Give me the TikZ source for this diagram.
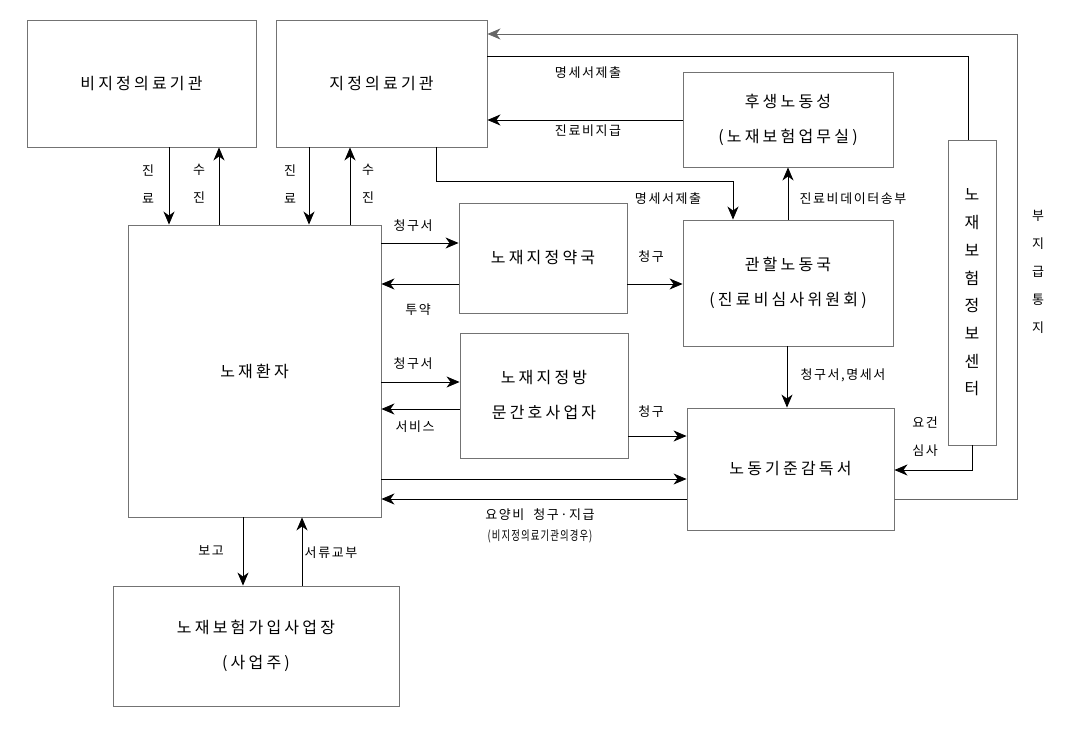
\documentclass[tikz,border=0pt]{standalone}
\usepackage{fontspec}
\usepackage{graphicx}
\setmainfont{Noto Sans CJK KR}
\newfontfamily\boxfont[LetterSpace=20]{Noto Sans CJK KR}
\newfontfamily\lblfont[LetterSpace=12]{Noto Sans CJK KR}
\usetikzlibrary{arrows.meta}
\begin{document}
\begin{tikzpicture}[x=1pt,y=-1pt,
  box/.style={draw=black!55,line width=0.9pt,fill=white,inner sep=0pt,align=center,
    font=\boxfont\fontsize{16}{35}\selectfont},
  arr/.style={line width=0.8pt,-{Stealth[length=13pt,width=11pt,inset=4pt]}},
  ln/.style={line width=0.8pt},
  lbl/.style={inner sep=0pt,font=\lblfont\fontsize{13}{28}\selectfont,align=center}]
\path[use as bounding box] (0,0) rectangle (1085,733);
% boxes
\node[box,minimum width=229pt,minimum height=127pt] (nonhosp) at (141.5,83.5) {비지정의료기관};
\node[box,minimum width=211pt,minimum height=127pt] (hosp) at (381.5,83.5) {지정의료기관};
\node[box,minimum width=253pt,minimum height=292pt] (patient) at (254.5,371) {노재환자};
\node[box,minimum width=210pt,minimum height=95pt] (mhlw) at (788,119.5) {후생노동성\\(노재보험업무실)};
\node[box,minimum width=168pt,minimum height=110pt] (pharm) at (543,258) {노재지정약국};
\node[box,minimum width=210pt,minimum height=126pt] (bureau) at (788,283) {관할노동국\\(진료비심사위원회)};
\node[box,minimum width=168pt,minimum height=125pt] (nurse) at (544,395.5) {노재지정방\\문간호사업자};
\node[box,minimum width=207pt,minimum height=122pt] (office) at (790.5,469) {노동기준감독서};
\node[box,minimum width=48pt,minimum height=305pt,font=\fontsize{16}{27.7}\selectfont] (info) at (972,292.5) {노\\재\\보\\험\\정\\보\\센\\터};
\node[box,minimum width=286pt,minimum height=120pt] (employer) at (256,646) {노재보험가입사업장\\(사업주)};
% corner coordinates
\coordinate (c1) at (1017,499);
\coordinate (c2) at (1017,34);
\coordinate (c3) at (968,56);
\coordinate (c4) at (436,181);
\coordinate (c5) at (733,181);
\coordinate (c6) at (972,470);
% connectors
\draw[arr] (nonhosp.south -| 169,0) -- (patient.north -| 169,0);
\draw[arr] (patient.north -| 219,0) -- (nonhosp.south -| 219,0);
\draw[arr] (hosp.south -| 309,0) -- (patient.north -| 309,0);
\draw[arr] (patient.north -| 350,0) -- (hosp.south -| 350,0);
\draw[arr,draw=black!60] (office.east |- c1) -- (c1) -- (c2) -- (hosp.east |- c2);
\draw[ln] (hosp.east |- c3) -- (c3) -- (info.north -| c3);
\draw[arr] (mhlw.west |- 0,120) -- (hosp.east |- 0,120);
\draw[arr] (hosp.south -| c4) -- (c4) -- (c5) -- (bureau.north -| c5);
\draw[arr] (bureau.north -| 788,0) -- (mhlw.south -| 788,0);
\draw[arr] (patient.east |- 0,243) -- (pharm.west |- 0,243);
\draw[arr] (pharm.west |- 0,284) -- (patient.east |- 0,284);
\draw[arr] (pharm.east |- 0,284) -- (bureau.west |- 0,284);
\draw[arr] (patient.east |- 0,382) -- (nurse.west |- 0,382);
\draw[arr] (nurse.west |- 0,409) -- (patient.east |- 0,409);
\draw[arr] (nurse.east |- 0,436) -- (office.west |- 0,436);
\draw[arr] (bureau.south -| 787,0) -- (office.north -| 787,0);
\draw[arr] (patient.east |- 0,479) -- (office.west |- 0,479);
\draw[arr] (office.west |- 0,499) -- (patient.east |- 0,499);
\draw[arr] (info.south -| c6) -- (c6) -- (office.east |- c6);
\draw[arr] (patient.south -| 243,0) -- (employer.north -| 243,0);
\draw[arr] (employer.north -| 302,0) -- (patient.south -| 302,0);
% labels
\node[lbl] (l1) at (148,184) {진\\료};
\node[lbl] (l2) at (199,184) {수\\진};
\node[lbl] (l3) at (290,184) {진\\료};
\node[lbl] (l4) at (368,184) {수\\진};
\node[lbl] (l5) at (588,73) {명세서제출};
\node[lbl] (l6) at (588,131) {진료비지급};
\node[lbl] (l7) at (668,199) {명세서제출};
\node[lbl] (l8) at (853,199) {진료비데이터송부};
\node[lbl] (l9) at (413,226) {청구서};
\node[lbl] (l10) at (418,310) {투약};
\node[lbl] (l11) at (651,257) {청구};
\node[lbl] (l12) at (413,364) {청구서};
\node[lbl] (l13) at (415,427) {서비스};
\node[lbl] (l14) at (651,412) {청구};
\node[lbl] (l15) at (843,375) {청구서,명세서};
\node[lbl] (l16) at (925,437) {요건\\심사};
\node[lbl] (l17) at (1038,272) {부\\지\\급\\통\\지};
\node[lbl] (l18) at (540,515) {요양비\ \ 청구·지급};
\node[lbl] (l19) at (540,536) {\scalebox{0.72}[1]{(비지정의료기관의경우)}};
\node[lbl] (l20) at (211,551) {보고};
\node[lbl] (l21) at (331,553) {서류교부};
\end{tikzpicture}
\end{document}
